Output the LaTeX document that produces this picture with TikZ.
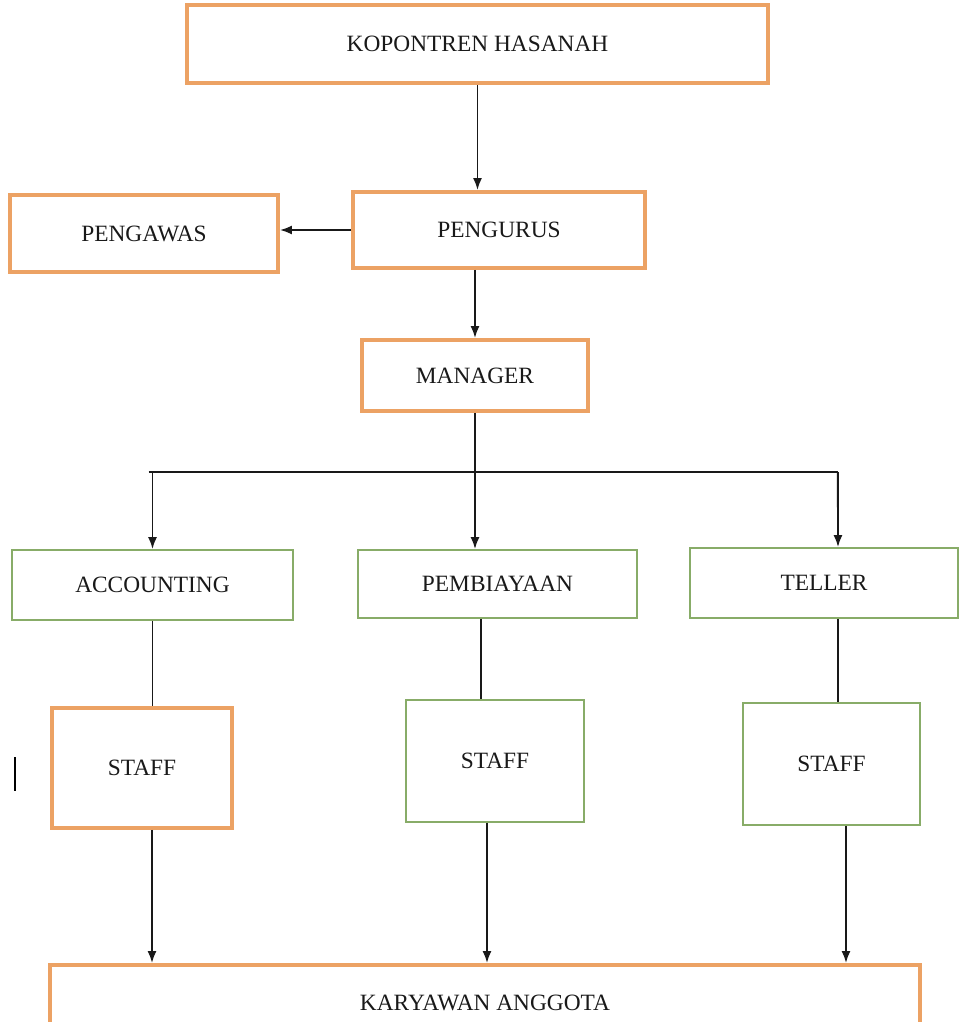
\documentclass[tikz,border=0pt]{standalone}
\usepackage{fontspec}
\setmainfont{Liberation Serif}
\usetikzlibrary{arrows.meta,positioning}
\definecolor{boxorange}{RGB}{236,162,100}
\definecolor{boxgreen}{RGB}{136,172,104}
\tikzstyle{block}=[draw=boxorange, line width=2.2pt, rectangle, fill=white, inner sep=0pt, text=black!90, font=\fontsize{13.3}{16}\selectfont]
\tikzstyle{unit}=[block, draw=boxgreen, line width=1pt]
\tikzstyle{link}=[line width=1.1pt, black!90]

\begin{document}
\begin{tikzpicture}[x=0.02cm, y=-0.02cm, >={Latex[length=2.4mm,width=1.8mm]}]
    \useasboundingbox (0,0) rectangle (959,1022);
    % top levels
    \node [block, minimum width=11.62cm, minimum height=1.56cm] (k) at (477.5,44) {KOPONTREN HASANAH};
    \node [block, minimum width=5.84cm, minimum height=1.52cm] (pg) at (499,230) {PENGURUS};
    \node [block, minimum width=5.36cm, minimum height=1.54cm] (pw) at (144,233.5) {PENGAWAS};
    \node [block, minimum width=4.52cm, minimum height=1.42cm] (m) at (475,375.5) {MANAGER};
    % units
    \node [unit, minimum width=5.62cm, minimum height=1.40cm] (ac) at (152.5,585) {ACCOUNTING};
    \node [unit, minimum width=5.58cm, minimum height=1.36cm] (pb) at (497.5,584) {PEMBIAYAAN};
    \node [unit, minimum width=5.36cm, minimum height=1.40cm] (tl) at (824,583) {TELLER};
    % staff
    \node [block, minimum width=3.60cm, minimum height=2.40cm] (s1) at (142,768) {STAFF};
    \node [unit, minimum width=3.56cm, minimum height=2.44cm] (s2) at (495,761) {STAFF};
    \node [unit, minimum width=3.54cm, minimum height=2.44cm] (s3) at (831.5,764) {STAFF};
    \node [block, minimum width=17.40cm, minimum height=1.52cm] (ka) at (485,1003) {KARYAWAN ANGGOTA};
    \coordinate (j) at (475,472);
    % connectors
    \draw [link, ->] (k.south) -- (k.south |- pg.north);
    \draw [link, ->] (pg.west) -- (pg.west -| pw.east);
    \draw [link, ->] (m.north |- pg.south) -- (m.north);
    \draw [link] (m.south) -- (j);
    \draw [link] ([xshift=-0.08cm]j -| ac.north) -- ([xshift=7.26cm]j);
    \draw [link, ->] (j -| ac.north) -- (ac.north);
    \draw [link, ->] (j) -- (j |- pb.north);
    \draw [link, ->] ([xshift=7.26cm]j) -- ([xshift=0.28cm]tl.north);
    \draw [link] (ac.south) -- (ac.south |- s1.north);
    \draw [link] ([xshift=-0.33cm]pb.south) -- ([xshift=-0.33cm]pb.south |- s2.north);
    \draw [link] ([xshift=0.28cm]tl.south) -- ([xshift=0.28cm]tl.south |- s3.north);
    \draw [link, ->] ([xshift=0.2cm]s1.south) -- ([xshift=0.2cm]s1.south |- ka.north);
    \draw [link, ->] ([xshift=-0.16cm]s2.south) -- ([xshift=-0.16cm]s2.south |- ka.north);
    \draw [link, ->] ([xshift=0.29cm]s3.south) -- ([xshift=0.29cm]s3.south |- ka.north);
    \draw [line width=1.1pt] (15,757) -- (15,791);
\end{tikzpicture}
\end{document}
